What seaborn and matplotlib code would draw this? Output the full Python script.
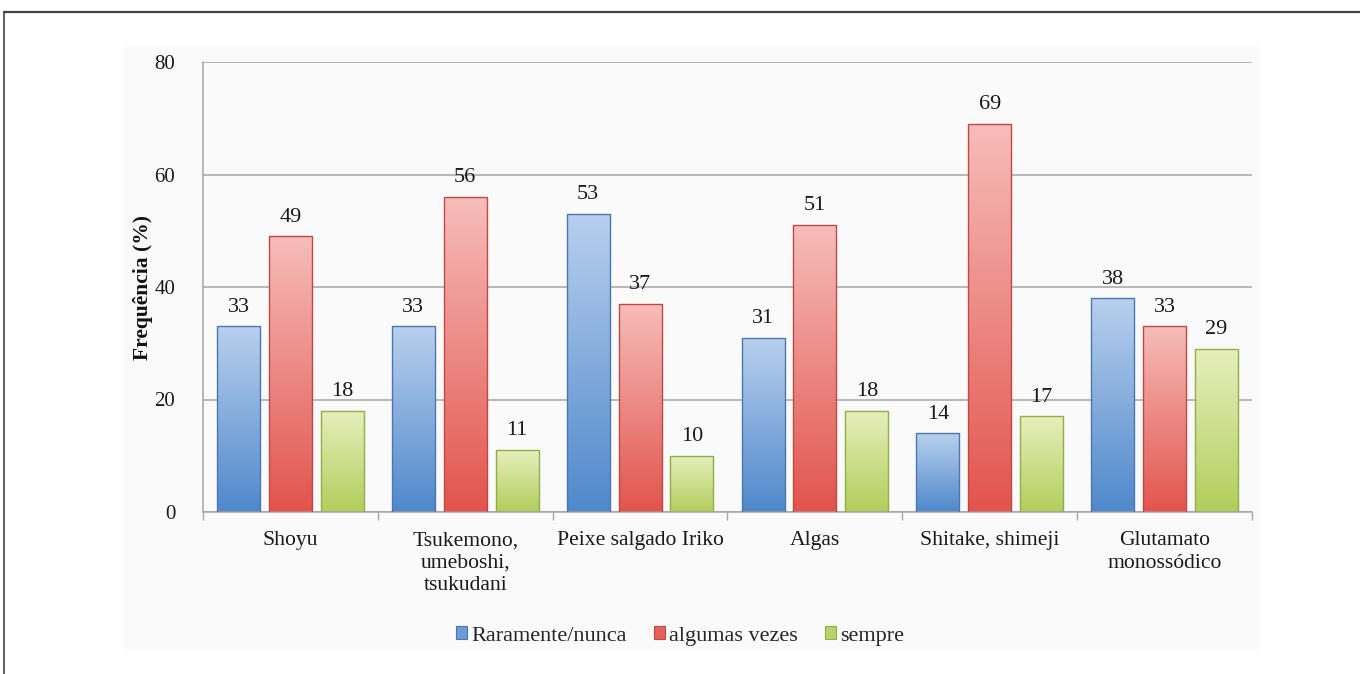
import numpy as np
import pandas as pd
import matplotlib
matplotlib.use("Agg")
import matplotlib.pyplot as plt
import seaborn as sns
from matplotlib.patches import Patch, Rectangle
from matplotlib.lines import Line2D
from matplotlib.colors import to_rgb

# ---- data ----
categories = ["Shoyu", "Tsukemono,\numeboshi,\ntsukudani", "Peixe salgado Iriko",
              "Algas", "Shitake, shimeji", "Glutamato\nmonossódico"]
series_names = ["Raramente/nunca", "algumas vezes", "sempre"]
raramente = [33, 33, 53, 31, 14, 38]
algumas = [49, 56, 37, 51, 69, 33]
sempre = [18, 11, 10, 18, 17, 29]
y_ticks = [0, 20, 40, 60, 80]
y_label = "Frequência (%)"

df = pd.DataFrame({
    "cat": categories * 3,
    "serie": [series_names[0]] * 6 + [series_names[1]] * 6 + [series_names[2]] * 6,
    "val": raramente + algumas + sempre,
})

top_cols = ["#b9d0ee", "#f7bdba", "#e7efbd"]
bot_cols = ["#4f88cb", "#e2544d", "#b2ce5c"]
edge_cols = ["#4a77b0", "#bf4a45", "#93ad48"]
mid_cols = ["#6f9bd6", "#e8605a", "#b9d36a"]

sns.set_theme(style="white")
plt.rcParams["font.family"] = ["Liberation Serif", "DejaVu Serif"]

W, H = 1360, 674
fig = plt.figure(figsize=(W / 100, H / 100), dpi=100)
fig.patch.set_facecolor("white")

# chart panel background
fig.patches.append(Rectangle((123 / W, 1 - 650 / H), (1260 - 123) / W, (650 - 46) / H,
                             transform=fig.transFigure, facecolor="#fafafa",
                             edgecolor="none", zorder=-5))
# outer frame lines
fig.lines.append(Line2D([4 / W, 1.0], [1 - 12 / H, 1 - 12 / H], transform=fig.transFigure,
                        color="#444444", lw=1.6, zorder=-4))
fig.lines.append(Line2D([4 / W, 4 / W], [1 - 12 / H, 0], transform=fig.transFigure,
                        color="#444444", lw=1.2, zorder=-4))

ax = fig.add_axes([203 / W, 1 - 512 / H, (1252 - 203) / W, (512 - 62) / H])
ax.set_facecolor("none")
ax.set_zorder(2)

sns.barplot(data=df, x="cat", y="val", hue="serie", order=categories,
            hue_order=series_names, palette=mid_cols, width=0.89, gap=0.17,
            ax=ax, legend=False, zorder=2)

# gradient fill inside each bar
for ci, cont in enumerate(ax.containers):
    c_top = np.array(to_rgb(top_cols[ci]))
    c_bot = np.array(to_rgb(bot_cols[ci]))
    t = np.linspace(0, 1, 256)[:, None]
    grad = (c_top * (1 - t) + c_bot * t)[:, None, :]
    for p in cont.patches:
        x0, w, h = p.get_x(), p.get_width(), p.get_height()
        im = ax.imshow(grad, extent=[x0, x0 + w, 0, h], aspect="auto",
                       origin="upper", zorder=2, interpolation="bilinear")
        im.set_clip_path(p)
        p.set_facecolor("none")
        p.set_edgecolor(edge_cols[ci])
        p.set_linewidth(1.0)
        p.set_zorder(3)
    ax.bar_label(cont, labels=[f"{v:.0f}" for v in cont.datavalues], padding=7,
                 fontsize=16, color="#1a1a1a")

ax.set_xlim(-0.5, len(categories) - 0.5)
ax.set_ylim(0, 80)
ax.set_yticks(y_ticks)
ax.set_yticklabels([str(v) for v in y_ticks], fontsize=15, color="#1a1a1a")
ax.yaxis.grid(True, color="#a6a6a6", lw=1.1)
ax.set_axisbelow(True)

ax.set_xticks(range(len(categories)))
ax.set_xticklabels(categories, fontsize=15.6, color="#1a1a1a", linespacing=1.25)
ax.set_xticks(np.arange(-0.5, len(categories)), minor=True)
ax.tick_params(axis="x", which="major", length=0, pad=14)
ax.tick_params(axis="x", which="minor", length=6, width=1, color="#a6a6a6",
               direction="out", bottom=True)
ax.tick_params(axis="y", length=0, pad=20)

ax.set_xlabel("")
ax.set_ylabel(y_label, fontsize=15.5, fontweight="bold", color="#111111")
ax.yaxis.set_label_coords((143 - 203) / (1252 - 203), 0.5)
ax.yaxis.label.set_verticalalignment("center")

for s in ["top", "right"]:
    ax.spines[s].set_visible(False)
for s in ["left", "bottom"]:
    ax.spines[s].set_color("#a6a6a6")
    ax.spines[s].set_linewidth(1.1)

handles = [Patch(facecolor=mid_cols[i], edgecolor=edge_cols[i], lw=0.8) for i in range(3)]
fig.legend(handles, series_names, loc="center", bbox_to_anchor=(680 / W, 1 - 636 / H),
           ncol=3, frameon=False, fontsize=16, handlelength=0.5, handleheight=0.5,
           handletextpad=0.2, columnspacing=1.2)

fig.savefig("out.png", dpi=100)
